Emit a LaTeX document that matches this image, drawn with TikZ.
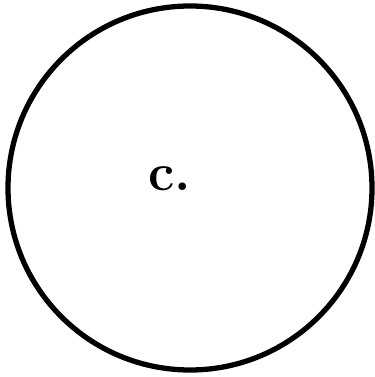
\documentclass[tikz,border=0pt]{standalone}
\usepackage{tikz}
\usetikzlibrary{positioning}

\begin{document}
\begin{tikzpicture}[
    x=0.02cm, y=-0.02cm,
    rim/.style   = {draw=black, line width=3pt},
    lbl/.style   = {font=\fontsize{30}{34}\selectfont\bfseries, inner sep=0pt},
  ]
    \useasboundingbox (0,0) rectangle (374,377);

    \coordinate (ctr) at (190,188);
    \draw[rim] (ctr) circle[radius=182];

    \node[lbl] (c) at (170,179) {c.};
  \end{tikzpicture}
\end{document}
